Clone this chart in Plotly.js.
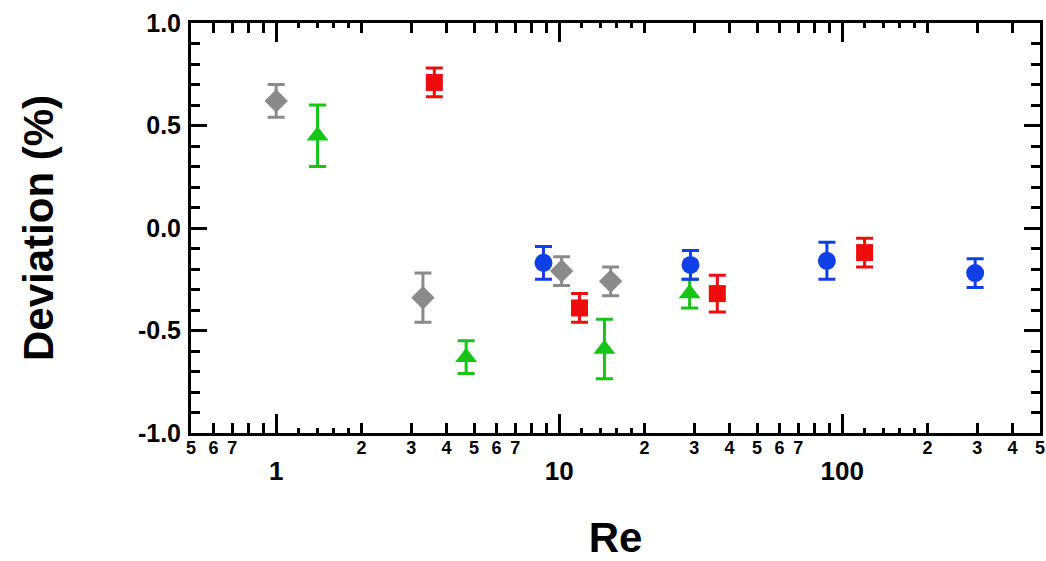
<!DOCTYPE html>
<html>
<head>
<meta charset="utf-8">
<script src="https://cdn.plot.ly/plotly-3.0.1.min.js"></script>
<style>
html,body{margin:0;padding:0;background:#fff;}
#chart{width:1046px;height:561px;}
</style>
</head>
<body>
<div id="chart"></div>
<script>
// ---- data ----
const grayRe   = [1.0, 3.3, 10.2, 15.2];
const grayDev  = [0.62, -0.34, -0.21, -0.26];
const grayErr  = [0.08, 0.12, 0.07, 0.07];

const greenRe  = [1.4, 4.69, 14.45, 28.9];
const greenDev = [0.45, -0.63, -0.59, -0.32];
const greenErr = [0.15, 0.08, 0.145, 0.07];

const redRe    = [3.62, 11.8, 36.2, 120];
const redDev   = [0.71, -0.39, -0.32, -0.12];
const redErr   = [0.07, 0.07, 0.09, 0.07];

const blueRe   = [8.8, 29.1, 88.3, 295];
const blueDev  = [-0.17, -0.18, -0.16, -0.22];
const blueErr  = [0.08, 0.07, 0.09, 0.07];

// tick definitions
const decadeVals = [1, 10, 100];
const decadeText = ["1", "10", "100"];
const midVals = [0.5,0.6,0.7,0.8,0.9, 2,3,4,5,6,7,8,9, 20,30,40,50,60,70,80,90, 200,300,400,500];
const midText = ["5","6","7","","", "2","3","4","5","6","7","","", "2","3","4","5","6","7","","", "2","3","4","5"];
const shortVals = [1.2,1.4,1.6,1.8, 12,14,16,18, 120,140,160,180];
const yVals = [-1, -0.5, 0, 0.5, 1];
const yText = ["-1.0", "-0.5", "0.0", "0.5", "1.0"];
const yMinorVals = [-0.9,-0.8,-0.7,-0.6,-0.4,-0.3,-0.2,-0.1,0.1,0.2,0.3,0.4,0.6,0.7,0.8,0.9];

const FONT = '"Liberation Sans", Arial, sans-serif';
const xRange = [Math.log10(0.5), Math.log10(500)];
const yRange = [-1, 1];

function series(x, y, e, color, symbol, size) {
  return {
    x: x, y: y, type: 'scatter', mode: 'markers',
    marker: {symbol: symbol, size: size, color: color, line: {width: 0}},
    error_y: {type: 'data', array: e, visible: true, color: color, thickness: 3, width: 8.5},
    showlegend: false, cliponaxis: false
  };
}
function dummy(xa, ya) {
  return {x: [1], y: [null], xaxis: xa, yaxis: ya, type: 'scatter', mode: 'markers',
          marker: {opacity: 0}, showlegend: false, hoverinfo: 'skip'};
}

const data = [
  dummy('x2', 'y'), dummy('x3', 'y'), dummy('x', 'y2'),
  series(grayRe, grayDev, grayErr, '#8a8a8a', 'diamond', 18),
  series(greenRe, greenDev, greenErr, '#16c416', 'triangle-up', 19),
  series(redRe, redDev, redErr, '#ee0c0c', 'square', 17),
  series(blueRe, blueDev, blueErr, '#0f3fe6', 'circle', 18)
];

const tickCommon = {ticks: 'inside', tickwidth: 3, tickcolor: '#000', showgrid: false, zeroline: false, fixedrange: true};

const layout = {
  width: 1046, height: 561,
  margin: {l: 191, r: 6, t: 23, b: 128},
  paper_bgcolor: '#ffffff', plot_bgcolor: '#ffffff',
  font: {family: FONT, color: '#000'},
  xaxis: Object.assign({}, tickCommon, {
    type: 'log', range: xRange,
    tickmode: 'array', tickvals: decadeVals, ticktext: decadeText,
    ticklen: 19, ticklabelstandoff: 13,
    showline: true, linewidth: 3, linecolor: '#000', mirror: 'ticks',
    tickfont: {family: FONT, size: 26, color: '#000', weight: 'bold'},
    title: {text: '<b>Re</b>', font: {family: FONT, size: 42, color: '#000'}, standoff: 52}
  }),
  xaxis2: Object.assign({}, tickCommon, {
    type: 'log', range: xRange, overlaying: 'x', anchor: 'y', side: 'bottom',
    tickmode: 'array', tickvals: midVals, ticktext: midText,
    ticklen: 10, ticklabelstandoff: 2,
    showline: false, mirror: 'ticks',
    tickfont: {family: FONT, size: 18, color: '#000', weight: 'bold'}
  }),
  xaxis3: Object.assign({}, tickCommon, {
    type: 'log', range: xRange, overlaying: 'x', anchor: 'y', side: 'bottom',
    tickmode: 'array', tickvals: shortVals, showticklabels: false,
    ticklen: 5, showline: false, mirror: 'ticks'
  }),
  yaxis: Object.assign({}, tickCommon, {
    range: yRange,
    tickmode: 'array', tickvals: yVals, ticktext: yText,
    ticklen: 16, ticklabelstandoff: 2,
    showline: true, linewidth: 3, linecolor: '#000', mirror: 'ticks',
    tickfont: {family: FONT, size: 25, color: '#000', weight: 'bold'},
    title: {text: '<b>Deviation (%)</b>', font: {family: FONT, size: 42, color: '#000'}, standoff: 72}
  }),
  yaxis2: Object.assign({}, tickCommon, {
    range: yRange, overlaying: 'y', anchor: 'x', side: 'left',
    tickmode: 'array', tickvals: yMinorVals, showticklabels: false,
    ticklen: 9, showline: false, mirror: 'ticks'
  })
};

Plotly.newPlot('chart', data, layout, {staticPlot: true, displayModeBar: false});
</script>
</body>
</html>
